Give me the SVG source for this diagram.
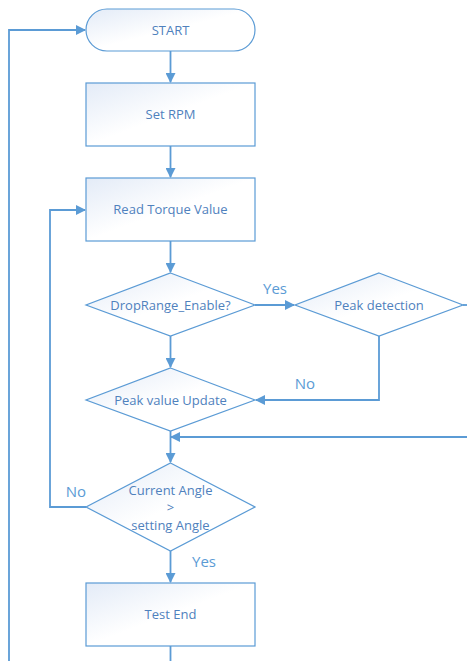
<svg xmlns="http://www.w3.org/2000/svg" width="467" height="661" viewBox="0 0 467 661">
<style>
.n{stroke:#5b9bd5;stroke-width:1.2;fill:url(#g)}
.c{stroke:#5b9bd5;stroke-width:1.8;fill:none}
.t{font-family:"Open Sans","Liberation Sans",sans-serif;font-size:13px;fill:#4f81bd;text-anchor:middle}
.l{font-family:"Open Sans","Liberation Sans",sans-serif;font-size:15px;fill:#5b9bd5;text-anchor:middle}
</style>
<defs>
<linearGradient id="g" x1="0" y1="0" x2="1" y2="1">
<stop offset="0" stop-color="#e3ebf7"/>
<stop offset="0.5" stop-color="#ffffff"/>
<stop offset="1" stop-color="#ffffff"/>
</linearGradient>
<marker id="a" markerWidth="10" markerHeight="10" refX="9" refY="5" orient="auto" markerUnits="userSpaceOnUse">
<path d="M0,0 L10,5 L0,10 z" fill="#5b9bd5"/>
</marker>
</defs>
<g id="connectors">
<path class="c" d="M9,661 V30 H85" marker-end="url(#a)"/>
<path class="c" d="M170.5,51 V82" marker-end="url(#a)"/>
<path class="c" d="M170.5,146 V177" marker-end="url(#a)"/>
<path class="c" d="M170.5,241 V272" marker-end="url(#a)"/>
<path class="c" d="M255,305 H294" marker-end="url(#a)"/>
<path class="c" d="M463,305 H467"/>
<path class="c" d="M379,336 V400 H256" marker-end="url(#a)"/>
<path class="c" d="M170.5,336 V367" marker-end="url(#a)"/>
<path class="c" d="M170.5,431 V462" marker-end="url(#a)"/>
<path class="c" d="M467,437 H171" marker-end="url(#a)"/>
<path class="c" d="M86,507 H50 V210 H85" marker-end="url(#a)"/>
<path class="c" d="M170.5,551 V582" marker-end="url(#a)"/>
<path class="c" d="M170.5,646 V661"/>
<text class="l" x="275" y="294">Yes</text>
<text class="l" x="305" y="389">No</text>
<text class="l" x="76" y="497">No</text>
<text class="l" x="204" y="567">Yes</text>
</g>
<g id="start">
<rect class="n" x="86" y="9" width="169" height="42" rx="21" ry="21"/>
<text class="t" x="170.5" y="35">START</text>
</g>
<g id="setrpm">
<rect class="n" x="86" y="83" width="169" height="63"/>
<text class="t" x="170.5" y="119">Set RPM</text>
</g>
<g id="readtorque">
<rect class="n" x="86" y="178" width="169" height="63"/>
<text class="t" x="170.5" y="214">Read Torque Value</text>
</g>
<g id="droprange">
<polygon class="n" points="170.5,273 255,305 170.5,336 86,305"/>
<text class="t" x="170.5" y="310">DropRange_Enable?</text>
</g>
<g id="peakdetect">
<polygon class="n" points="379,273 463,305 379,336 295,305"/>
<text class="t" x="379" y="310">Peak detection</text>
</g>
<g id="peakupdate">
<polygon class="n" points="170.5,368 255,400 170.5,431 86,400"/>
<text class="t" x="170.5" y="405">Peak value Update</text>
</g>
<g id="angle">
<polygon class="n" points="170.5,463 255,507 170.5,551 86,507"/>
<text class="t" x="170.5" y="495">Current Angle</text>
<text class="t" x="170.5" y="512">&gt;</text>
<text class="t" x="170.5" y="530">setting Angle</text>
</g>
<g id="testend">
<rect class="n" x="86" y="583" width="169" height="63"/>
<text class="t" x="170.5" y="619">Test End</text>
</g>
</svg>
